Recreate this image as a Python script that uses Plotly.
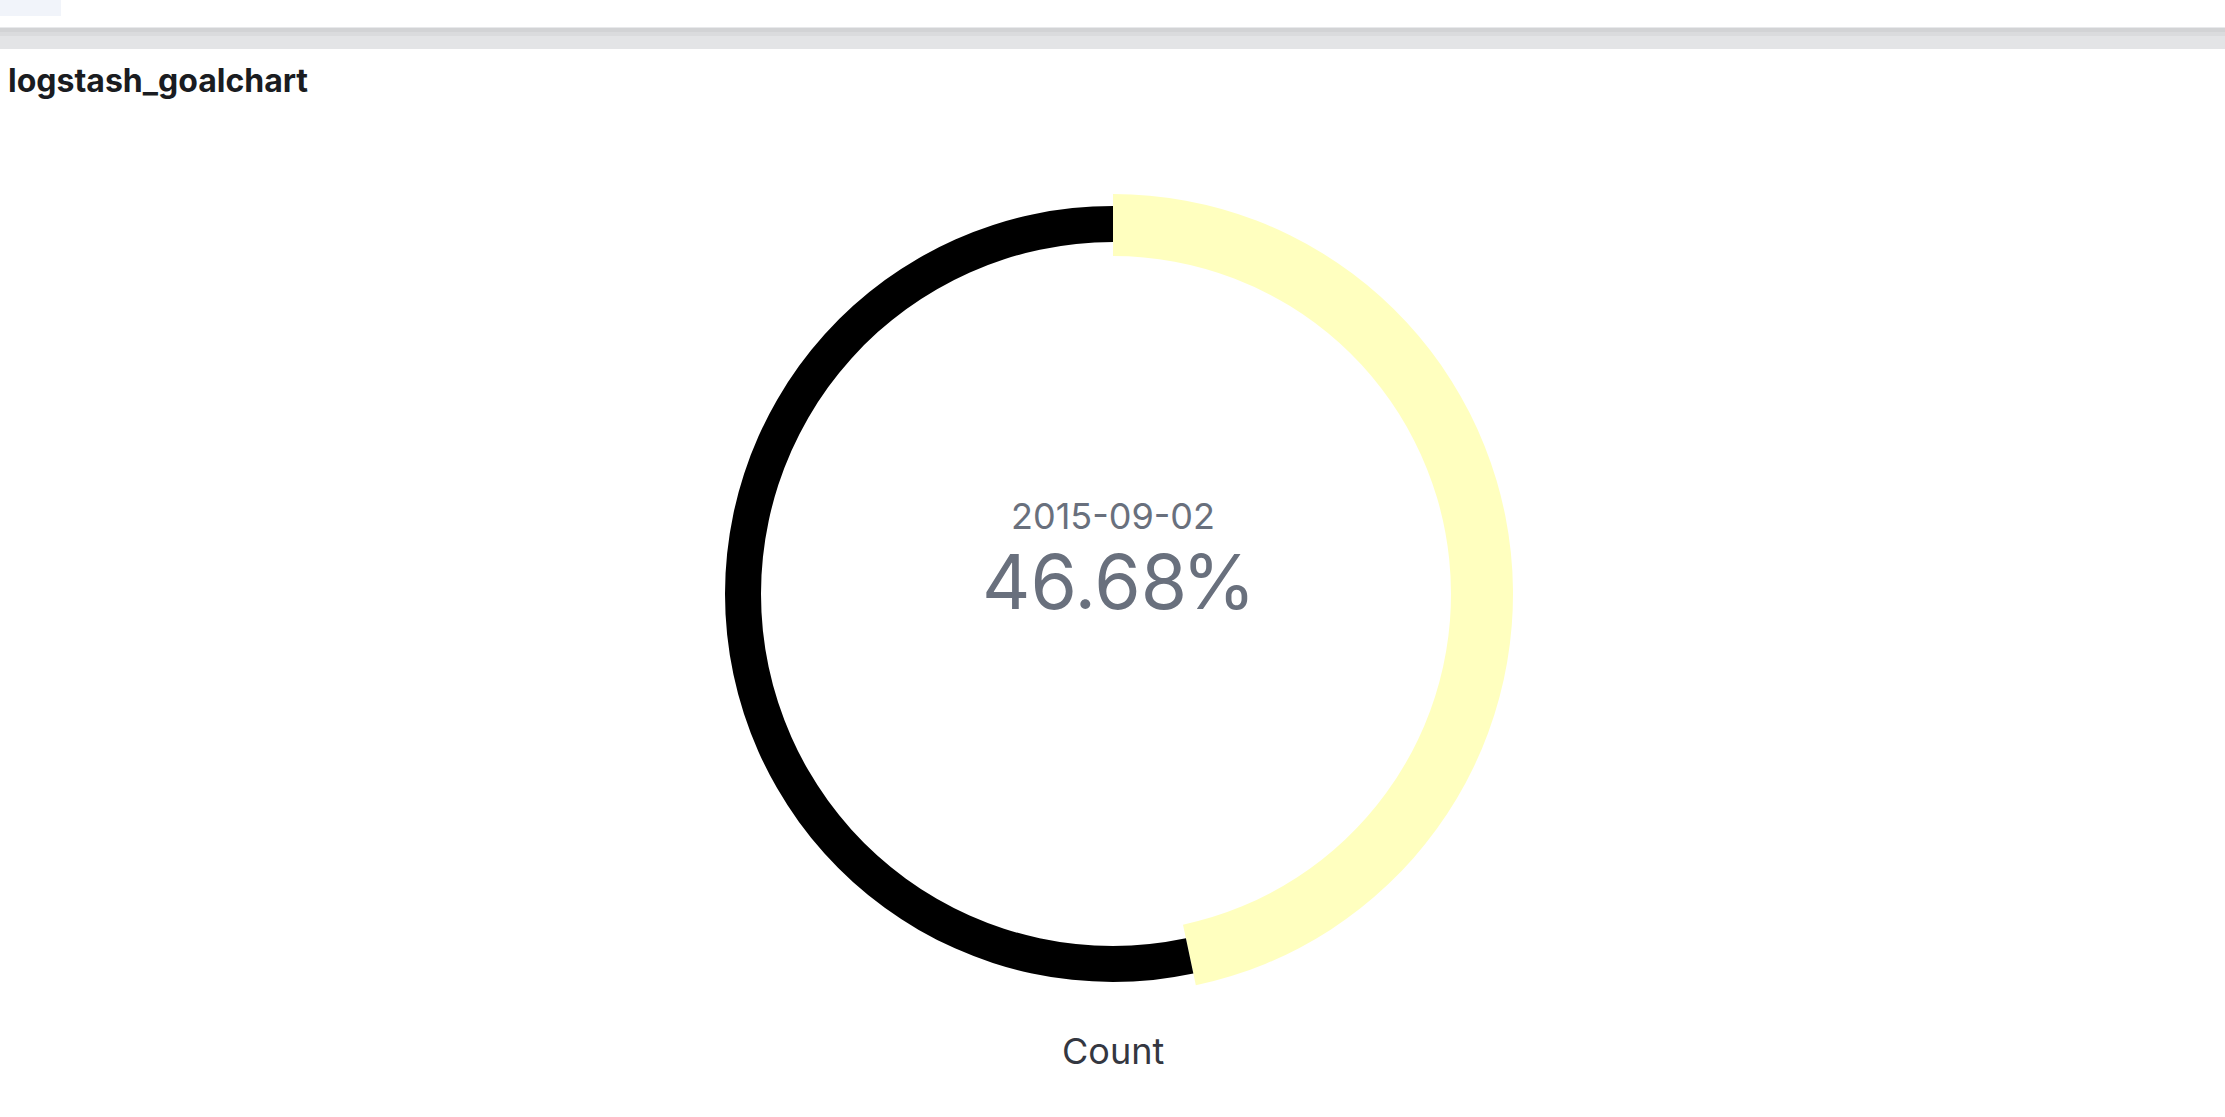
import plotly.graph_objects as go

# goal chart values
panel_title = "logstash_goalchart"
bucket_label = "2015-09-02"
metric_label = "Count"
goal_percent = 46.68
goal_total = 100.0

W, H = 2225, 1117

# ring geometry in pixels (center + radii)
cx, cy = 1113, 594
ring_specs = [
    # (outer radius, inner radius, reached color, remaining color)
    (400, 338, "#ffffbf", "rgba(0,0,0,0)"),
    (388, 352, "rgba(0,0,0,0)", "#000000"),
]


def px_x(x):
    return x / W


def px_y(y):
    return 1 - y / H


fig = go.Figure()

values = [goal_percent, goal_total - goal_percent]
for outer, inner, c_reached, c_rest in ring_specs:
    fig.add_trace(go.Pie(
        values=values,
        labels=["reached", "remaining"],
        hole=inner / outer,
        sort=False,
        direction="clockwise",
        rotation=0,
        textinfo="none",
        hoverinfo="skip",
        showlegend=False,
        marker=dict(colors=[c_reached, c_rest], line=dict(width=0)),
        domain=dict(
            x=[px_x(cx - outer), px_x(cx + outer)],
            y=[px_y(cy + outer), px_y(cy - outer)],
        ),
    ))

shapes = [
    # top-left light blue tab
    dict(type="rect", xref="paper", yref="paper",
         x0=0, x1=px_x(61), y0=px_y(16), y1=1,
         fillcolor="#f1f4fa", line=dict(width=0), layer="below"),
    # header shadow band (rough gradient)
    dict(type="rect", xref="paper", yref="paper",
         x0=0, x1=1, y0=px_y(49), y1=px_y(27),
         fillcolor="#e3e4e6", line=dict(width=0), layer="below"),
    dict(type="rect", xref="paper", yref="paper",
         x0=0, x1=1, y0=px_y(36), y1=px_y(28),
         fillcolor="#dadbdd", line=dict(width=0), layer="below"),
    dict(type="rect", xref="paper", yref="paper",
         x0=0, x1=1, y0=px_y(32), y1=px_y(28),
         fillcolor="#d2d3d5", line=dict(width=0), layer="below"),
    dict(type="line", xref="paper", yref="paper",
         x0=0, x1=1, y0=px_y(27.5), y1=px_y(27.5),
         line=dict(color="#e8e9eb", width=1)),
]

pct_text = f"{goal_percent:.2f}"
annotations = [
    dict(text=f"<b>{panel_title}</b>", x=px_x(6), y=px_y(80),
         xanchor="left", yanchor="middle",
         font=dict(family="Inter", size=32, color="#1a1c21")),
    dict(text=bucket_label, x=px_x(cx), y=px_y(516),
         xanchor="center", yanchor="middle",
         font=dict(family="Inter", size=36, color="#69707d")),
    dict(text=pct_text, x=px_x(1189), y=px_y(581),
         xanchor="right", yanchor="middle",
         font=dict(family="Inter", size=75, color="#69707d")),
    dict(text="%", x=px_x(1180), y=px_y(581),
         xanchor="left", yanchor="middle",
         font=dict(family="Inter", size=75, color="#69707d")),
    dict(text=metric_label, x=px_x(cx), y=px_y(1051),
         xanchor="center", yanchor="middle",
         font=dict(family="Inter", size=36, color="#343741")),
]
for a in annotations:
    a.update(xref="paper", yref="paper", showarrow=False)

fig.update_layout(
    width=W,
    height=H,
    margin=dict(l=0, r=0, t=0, b=0),
    paper_bgcolor="white",
    plot_bgcolor="white",
    shapes=shapes,
    annotations=annotations,
)

fig.write_html("out.html", config={"displayModeBar": False},
               post_script="document.body.style.margin='0';")
